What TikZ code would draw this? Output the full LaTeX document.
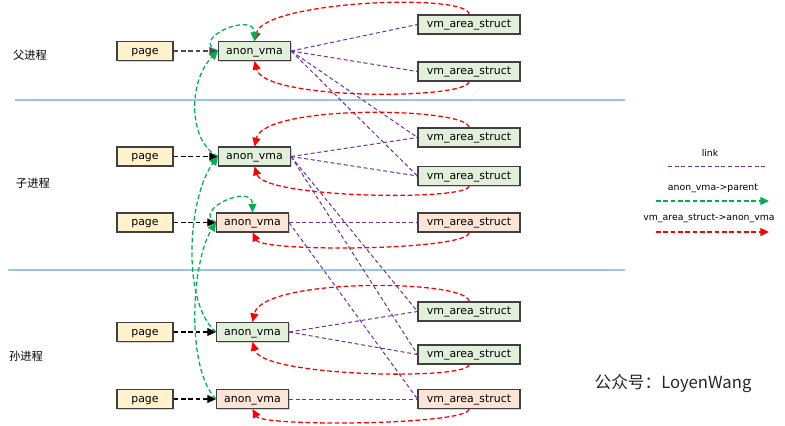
\documentclass[tikz,border=0pt]{standalone}
\usepackage{fontspec}
\setmainfont{DejaVu Sans}
\newfontfamily\cjk{Noto Sans CJK SC}
\usetikzlibrary{arrows.meta,shadows}
\definecolor{pagefill}{HTML}{FFF2CC}
\definecolor{greenfill}{HTML}{E2EFDA}
\definecolor{orangefill}{HTML}{FCE4D6}
\definecolor{boxline}{HTML}{404040}
\definecolor{sepblue}{HTML}{9DC3E6}
\definecolor{linkpurple}{HTML}{7030A0}
\definecolor{parentgreen}{HTML}{00B050}
\definecolor{vmared}{HTML}{FF0000}
\begin{document}
\begin{tikzpicture}[x=0.75pt,y=-0.75pt,
  box/.style={draw=boxline,line width=0.8pt,minimum height=14.25pt,inner sep=0pt,
    text height=6.3pt,text depth=1.7pt,
    font=\fontsize{8.2}{9}\selectfont,
    drop shadow={shadow xshift=0.9pt,shadow yshift=-0.9pt,fill=black!45,opacity=0.4}},
  pagebox/.style={box,fill=pagefill,minimum width=42pt},
  avgreen/.style={box,fill=greenfill,minimum width=54pt},
  avorange/.style={box,fill=orangefill,minimum width=54pt},
  vmagreen/.style={box,fill=greenfill,minimum width=76.5pt},
  vmaorange/.style={box,fill=orangefill,minimum width=76.5pt},
  proclabel/.style={font=\cjk\fontsize{8.5}{10}\selectfont,inner sep=0pt},
  legtext/.style={font=\fontsize{7}{8}\selectfont,inner sep=0pt},
  sepline/.style={draw=sepblue,line width=1.4pt},
  pagearr/.style={draw=black,line width=0.9pt,dash pattern=on 3.5pt off 2pt,
    -{Triangle[length=6.5pt,width=6pt]}},
  link/.style={draw=linkpurple,line width=0.75pt,dash pattern=on 3pt off 2pt},
  parentarr/.style={draw=parentgreen,line width=0.95pt,dash pattern=on 3.5pt off 2pt,
    -{Triangle[length=6.5pt,width=6pt,fill=parentgreen]}},
  vmaarr/.style={draw=vmared,line width=0.95pt,dash pattern=on 3.5pt off 2pt,
    -{Triangle[length=6.5pt,width=6pt,fill=vmared]}}
]
\useasboundingbox (0,0) rectangle (785,425);

% separators
\draw[sepline] (15,100) -- (625,100);
\draw[sepline] (8,270) -- (625,270);

% process labels
\node[proclabel] (lbl1) at (30,55) {父进程};
\node[proclabel] (lbl2) at (33,183) {子进程};
\node[proclabel] (lbl3) at (26,356) {孙进程};

% parent
\node[pagebox] (p1) at (145,51) {page};
\node[avgreen] (a1) at (254.5,51) {anon\_vma};
\node[vmagreen] (v1a) at (469,24.5) {vm\_area\_struct};
\node[vmagreen] (v1b) at (469,71.5) {vm\_area\_struct};

% child
\node[pagebox] (p2) at (145,156.5) {page};
\node[avgreen] (a2) at (254.5,156.5) {anon\_vma};
\node[vmagreen] (v2a) at (469,137.5) {vm\_area\_struct};
\node[vmagreen] (v2b) at (469,176) {vm\_area\_struct};
\node[pagebox] (p3) at (145,222.5) {page};
\node[avorange] (a3) at (252.5,222.5) {anon\_vma};
\node[vmaorange] (v3) at (469,222.5) {vm\_area\_struct};

% grandchild
\node[pagebox] (p4) at (145,332) {page};
\node[avgreen] (a4) at (252.5,332) {anon\_vma};
\node[vmagreen] (v4a) at (469,311.5) {vm\_area\_struct};
\node[vmagreen] (v4b) at (469,354.5) {vm\_area\_struct};
\node[pagebox] (p5) at (145,399) {page};
\node[avorange] (a5) at (252.5,399) {anon\_vma};
\node[vmaorange] (v5) at (469,399) {vm\_area\_struct};

% page -> anon_vma
\draw[pagearr,draw=black!70] (p1) -- (a1);
\draw[pagearr] (p2) -- (a2);
\draw[pagearr] (p3) -- (a3);
\draw[pagearr] (p4) -- (a4);
\draw[pagearr] (p5) -- (a5);

% links
\draw[link] (a1.east) -- (v1a.west);
\draw[link] (a1.east) -- (v1b.west);
\draw[link] (a1.east) -- (v2a.west);
\draw[link] (a1.east) -- (v2b.west);
\draw[link] (a2.east) -- (v2a.west);
\draw[link] (a2.east) -- (v2b.west);
\draw[link] (a2.east) -- (v4a.west);
\draw[link] (a2.east) -- (v4b.west);
\draw[link] (a3.east) -- (v3.west);
\draw[link] (a3.east) -- (v5.west);
\draw[link] (a4.east) -- (v4a.west);
\draw[link] (a4.east) -- (v4b.west);
\draw[link] (a5.east) -- (v5.west);

% vm_area_struct -> anon_vma
\draw[vmaarr] (v1a.north) .. controls +(0,-22) and +(10,-40) .. (a1.north);
\draw[vmaarr] (v1b.south) .. controls +(0,18) and +(10,40) .. (a1.south);
\draw[vmaarr] (v2a.north) .. controls +(0,-20) and +(10,-43) .. (a2.north);
\draw[vmaarr] (v2b.south) .. controls +(0,15) and +(10,32) .. (a2.south);
\draw[vmaarr] (v3.south) .. controls +(0,18) and +(10,20) .. (a3.south);
\draw[vmaarr] (v4a.north) .. controls +(0,-22) and +(10,-45) .. (a4.north);
\draw[vmaarr] (v4b.south) .. controls +(0,16) and +(10,35) .. (a4.south);
\draw[vmaarr] (v5.south) .. controls +(0,16) and +(10,18) .. (a5.south);

% anon_vma -> parent
\draw[parentarr] (a1.west) .. controls +(-30,-12) and +(0,-30) .. (a1.north);
\draw[parentarr] (a2.west) .. controls +(-30,-15) and +(-30,30) .. (a1.west);
\draw[parentarr] (a3.west) .. controls +(-25,-12) and +(0,-30) .. (a3.north);
\draw[parentarr] (a4.west) .. controls +(-35,-30) and +(-30,40) .. (a2.west);
\draw[parentarr] (a5.west) .. controls +(-30,-30) and +(-25,40) .. (a3.west);

% legend
\node[legtext] (lg1) at (710,153) {link};
\coordinate (lg1a) at (668,166);
\coordinate (lg1b) at (766,166);
\draw[link] (lg1a) -- (lg1b);
\node[legtext] (lg2) at (713,188) {anon\_vma->parent};
\coordinate (lg2a) at (656,201);
\coordinate (lg2b) at (769,201);
\draw[parentarr] (lg2a) -- (lg2b);
\node[legtext] (lg3) at (709,218) {vm\_area\_struct->anon\_vma};
\coordinate (lg3a) at (656,232);
\coordinate (lg3b) at (769,232);
\draw[vmaarr] (lg3a) -- (lg3b);

% watermark
\node[font=\cjk\fontsize{12.5}{14}\selectfont,text=black!85,inner sep=0pt] (wm) at (673,384) {公众号：LoyenWang};
\end{tikzpicture}
\end{document}
